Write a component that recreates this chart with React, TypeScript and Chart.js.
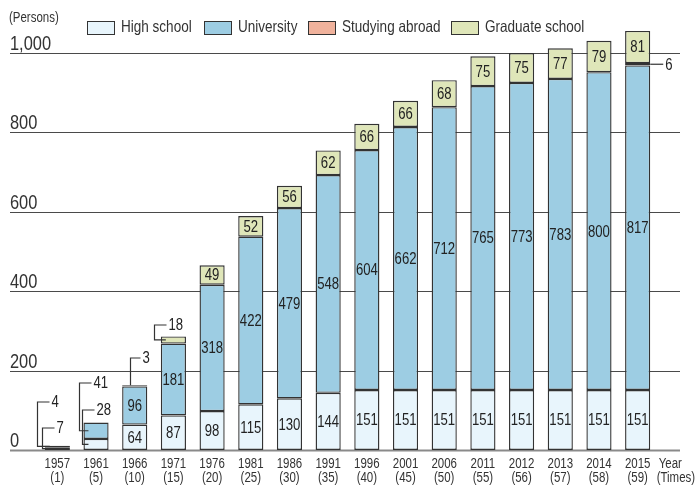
import React, { useEffect, useRef } from "react";
import { Chart, registerables } from "chart.js";

Chart.register(...registerables);

const years = ["1957", "1961", "1966", "1971", "1976", "1981", "1986", "1991", "1996", "2001", "2006", "2011", "2012", "2013", "2014", "2015"];
const times = ["(1)", "(5)", "(10)", "(15)", "(20)", "(25)", "(30)", "(35)", "(40)", "(45)", "(50)", "(55)", "(56)", "(57)", "(58)", "(59)"];
const highSchool = [7, 28, 64, 87, 98, 115, 130, 144, 151, 151, 151, 151, 151, 151, 151, 151];
const university = [4, 41, 96, 181, 318, 422, 479, 548, 604, 662, 712, 765, 773, 783, 800, 817];
const studyingAbroad = [null, null, null, null, null, null, null, null, null, null, null, null, null, null, null, 6];
const graduateSchool = [null, null, 3, 18, 49, 52, 56, 62, 66, 66, 68, 75, 75, 77, 79, 81];
const yTicks = [0, 200, 400, 600, 800, 1000];
const seriesLabels = ["High school", "University", "Studying abroad", "Graduate school"];
const seriesColors = ["#e8f5fc", "#9dcde3", "#f0b29c", "#dfe6b9"];

const FONT = "'Liberation Sans', Arial, sans-serif";
const SQUEEZE = 0.82;

// callouts: dataset index, category index, style kind
const callouts = [
  { ds: 1, i: 0, kind: "left", vx: -8, ly: 402 },
  { ds: 0, i: 0, kind: "left", vx: -3, ly: 428 },
  { ds: 1, i: 1, kind: "left", vx: -4, ly: 383 },
  { ds: 0, i: 1, kind: "left", vx: -1, ly: 410 },
  { ds: 3, i: 2, kind: "top", vx: 8, ly: 358 },
  { ds: 3, i: 3, kind: "left", vx: -7, ly: 325 },
  { ds: 2, i: 15, kind: "right", vx: 0, ly: 0 },
];

function txt(ctx: any, s: string, x: number, y: number, size: number, align: string, baseline: string, color: string) {
  ctx.save();
  ctx.font = `${size}px ${FONT}`;
  ctx.fillStyle = color;
  ctx.textAlign = align;
  ctx.textBaseline = baseline;
  ctx.translate(x, y);
  ctx.scale(SQUEEZE, 1);
  ctx.fillText(s, 0, 0);
  ctx.restore();
}

const overlayPlugin = {
  id: "overlay",
  beforeDatasetsDraw(chart: any) {
    const ctx = chart.ctx;
    const y = chart.scales.y;
    ctx.save();
    yTicks.forEach((t) => {
      const py = Math.round(y.getPixelForValue(t)) + 0.5;
      ctx.beginPath();
      ctx.strokeStyle = t === 0 ? "#8a8a8a" : "#4a4a4a";
      ctx.lineWidth = t === 0 ? 2 : 1.2;
      ctx.moveTo(10, py);
      ctx.lineTo(680, py);
      ctx.stroke();
    });
    ctx.restore();
  },
  afterDatasetsDraw(chart: any) {
    const ctx = chart.ctx;
    const x = chart.scales.x;
    const y = chart.scales.y;
    ctx.save();
    yTicks.forEach((t) => {
      const py = y.getPixelForValue(t);
      txt(ctx, t.toLocaleString("en-US"), 10, py - 3, 20, "left", "alphabetic", "#333");
    });
    txt(ctx, "(Persons)", 9, 18, 14, "left", "middle", "#333");

    years.forEach((yr, i) => {
      const px = x.getPixelForValue(i);
      txt(ctx, yr, px, 464, 14, "center", "middle", "#333");
      txt(ctx, times[i], px, 478, 14, "center", "middle", "#333");
    });
    const lastX = x.getPixelForValue(years.length - 1);
    txt(ctx, "Year", lastX + 21, 464, 14, "left", "middle", "#333");
    txt(ctx, "(Times)", lastX + 19, 478, 14, "left", "middle", "#333");

    chart.data.datasets.forEach((ds: any, di: number) => {
      const meta = chart.getDatasetMeta(di);
      meta.data.forEach((el: any, i: number) => {
        const v = ds.data[i];
        if (v == null || v < 45) return;
        const cy = (el.y + el.base) / 2;
        txt(ctx, String(v), el.x, cy + 1, 16, "center", "middle", "#222");
      });
    });

    ctx.strokeStyle = "#333";
    ctx.lineWidth = 1.2;
    callouts.forEach((c) => {
      const el: any = chart.getDatasetMeta(c.ds).data[c.i];
      const v = (chart.data.datasets[c.ds].data as any[])[c.i];
      const left = el.x - el.width / 2;
      const right = el.x + el.width / 2;
      const cy = (el.y + el.base) / 2;
      ctx.beginPath();
      let lx = 0;
      let ly = 0;
      if (c.kind === "left") {
        const vx = Math.round(left + c.vx) + 0.5;
        ctx.moveTo(left + 5, cy);
        ctx.lineTo(vx, cy);
        ctx.lineTo(vx, c.ly);
        lx = vx + 12;
        ctx.lineTo(lx, c.ly);
        ly = c.ly;
      } else if (c.kind === "top") {
        const vx = Math.round(left + c.vx) + 0.5;
        ctx.moveTo(vx, el.y);
        ctx.lineTo(vx, c.ly);
        lx = vx + 10;
        ctx.lineTo(lx, c.ly);
        ly = c.ly;
      } else {
        ctx.moveTo(right, cy);
        lx = right + 13;
        ctx.lineTo(lx, cy);
        ly = cy;
      }
      ctx.stroke();
      txt(ctx, String(v), lx + 2, ly + 1, 16, "left", "middle", "#222");
    });

    const legendX = [87, 204, 308, 451];
    seriesLabels.forEach((lab, k) => {
      ctx.fillStyle = seriesColors[k];
      ctx.fillRect(legendX[k], 21, 27, 13);
      ctx.strokeStyle = "#333";
      ctx.lineWidth = 1;
      ctx.strokeRect(legendX[k] + 0.5, 21.5, 27, 13);
      txt(ctx, lab, legendX[k] + 34, 27, 16.5, "left", "middle", "#333");
    });
    ctx.restore();
  },
};

export default function App() {
  const ref = useRef<HTMLCanvasElement | null>(null);
  useEffect(() => {
    if (!ref.current) return;
    const mk = (label: string, data: any[], color: string) => ({
      label,
      data,
      backgroundColor: color,
      borderColor: "#333",
      borderWidth: 1.4,
      borderSkipped: false,
      barPercentage: 0.65,
      categoryPercentage: 1,
    });
    const chart = new Chart(ref.current, {
      type: "bar",
      data: {
        labels: years,
        datasets: [
          mk(seriesLabels[0], highSchool, seriesColors[0]),
          mk(seriesLabels[1], university, seriesColors[1]),
          mk(seriesLabels[2], studyingAbroad, seriesColors[2]),
          mk(seriesLabels[3], graduateSchool, seriesColors[3]),
        ],
      },
      options: {
        responsive: false,
        animation: false,
        layout: { padding: { left: 38, right: 38, top: 13, bottom: 35 } },
        plugins: { legend: { display: false }, tooltip: { enabled: false } },
        scales: {
          x: { stacked: true, display: false },
          y: { stacked: true, display: false, min: 0, max: 1100 },
        },
      },
      plugins: [overlayPlugin],
    });
    return () => chart.destroy();
  }, []);
  return (
    <div style={{ position: "fixed", left: 0, top: 0, width: 695, height: 485, background: "#fff" }}>
      <canvas ref={ref} width={695} height={485} style={{ width: 695, height: 485 }} />
    </div>
  );
}
